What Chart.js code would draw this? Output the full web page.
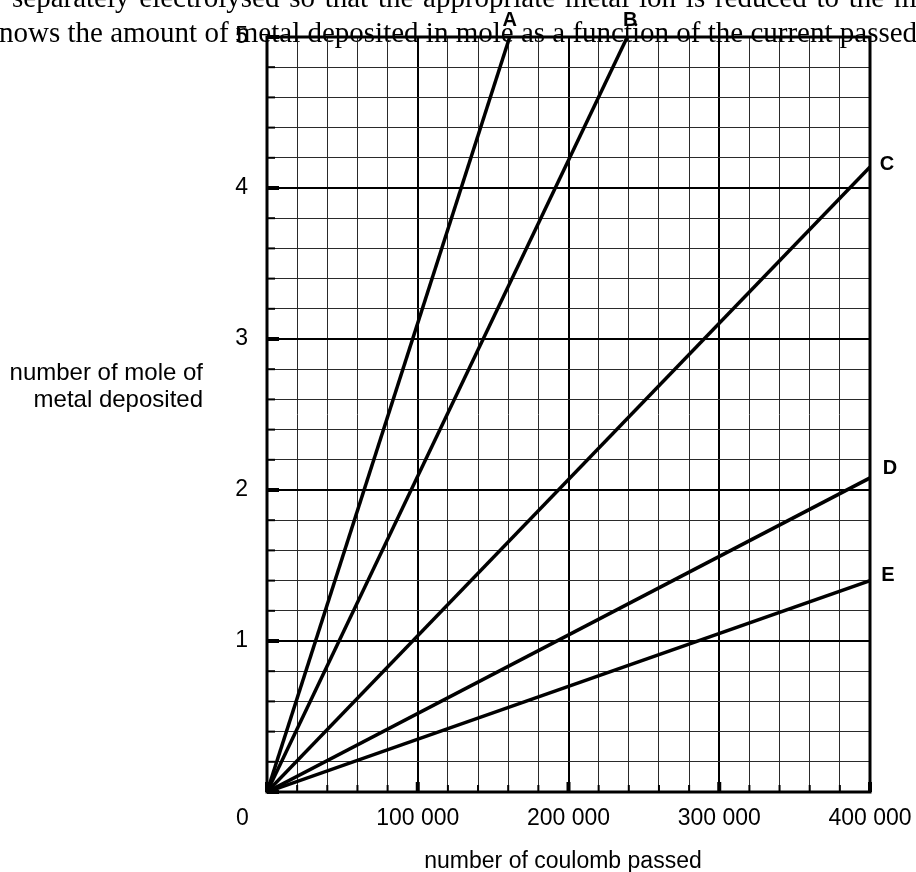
<!DOCTYPE html>
<html>
<head>
<meta charset="utf-8">
<script src="https://cdn.jsdelivr.net/npm/chart.js@4/dist/chart.umd.min.js"></script>
<style>
  html, body { margin: 0; padding: 0; background: #fff; }
  #wrap { width: 916px; height: 872px; }
</style>
</head>
<body>
<div id="wrap"><canvas id="faradayChart" width="916" height="872"></canvas></div>
<script>
// ---- data ----
const seriesLabels = ['A', 'B', 'C', 'D', 'E'];
const seriesCoulomb = [[0, 161000], [0, 239000], [0, 400000], [0, 400000], [0, 400000]];
const seriesMole = [[0, 5], [0, 5], [0, 4.14], [0, 2.08], [0, 1.40]];
const xTickValues = [0, 100000, 200000, 300000, 400000];
const xTickLabels = ['0', '100 000', '200 000', '300 000', '400 000'];
const yTickValues = [1, 2, 3, 4, 5];
const yTickLabels = ['1', '2', '3', '4', '5'];
const pageLines = [
    'separately electrolysed so that the appropriate metal ion is reduced to the metal.',
    'nows the amount of metal deposited in mole as a function of the current passed.'
];

const SANS = '"Liberation Sans", Arial, sans-serif';

// label offsets from each line's end point (px)
const labelOffsets = [[0, -17], [3, -17], [17, -2], [20, -9], [18, -5]];

const isWhole = (v, unit) => Math.abs(v / unit - Math.round(v / unit)) < 1e-6;

const datasets = seriesLabels.map((name, i) => ({
    label: name,
    data: seriesCoulomb[i].map((x, j) => ({ x: x, y: seriesMole[i][j] })),
    borderColor: '#000',
    borderWidth: 3.5,
    pointRadius: 0,
    fill: false,
    tension: 0
}));

// page text behind the graph (scanned exam sheet)
const pageTextPlugin = {
    id: 'pageText',
    beforeDraw(chart) {
        const ctx = chart.ctx;
        ctx.save();
        ctx.fillStyle = '#000';
        ctx.font = '29px "Liberation Serif", "Times New Roman", serif';
        ctx.textBaseline = 'alphabetic';
        ctx.textAlign = 'left';
        ctx.wordSpacing = '2.5px';
        ctx.fillText(pageLines[0], 12, 6.5);
        ctx.wordSpacing = '0px';
        ctx.fillText(pageLines[1], -1, 41.5);
        ctx.restore();
    }
};

// frame, inner tick stubs, labels
const decorPlugin = {
    id: 'decor',
    afterDatasetsDraw(chart) {
        const { ctx, chartArea: a, scales } = chart;
        ctx.save();
        ctx.strokeStyle = '#000';
        // tick stubs on left axis
        scales.y.ticks.forEach(t => {
            const y = scales.y.getPixelForValue(t.value);
            const major = isWhole(t.value, 1);
            ctx.lineWidth = major ? 4 : 2;
            ctx.beginPath();
            ctx.moveTo(a.left, y);
            ctx.lineTo(a.left + (major ? 12 : 8), y);
            ctx.stroke();
        });
        // tick stubs on bottom axis
        scales.x.ticks.forEach(t => {
            const x = scales.x.getPixelForValue(t.value);
            const major = isWhole(t.value, 100000);
            ctx.lineWidth = major ? 4 : 2;
            ctx.beginPath();
            ctx.moveTo(x, a.bottom);
            ctx.lineTo(x, a.bottom - (major ? 10 : 7));
            ctx.stroke();
        });
        ctx.lineWidth = 3;
        ctx.strokeRect(a.left, a.top, a.right - a.left, a.bottom - a.top);
        ctx.restore();
    },
    afterDraw(chart) {
        const { ctx, chartArea: a, scales } = chart;
        ctx.save();
        ctx.fillStyle = '#000';
        // line letters
        ctx.font = 'bold 20px ' + SANS;
        ctx.textAlign = 'center';
        ctx.textBaseline = 'middle';
        chart.data.datasets.forEach((ds, i) => {
            const last = ds.data[ds.data.length - 1];
            const px = scales.x.getPixelForValue(last.x) + labelOffsets[i][0];
            const py = scales.y.getPixelForValue(last.y) + labelOffsets[i][1];
            ctx.fillText(ds.label, px, py);
        });
        // shared zero at the corner
        ctx.font = '23px ' + SANS;
        ctx.textBaseline = 'alphabetic';
        ctx.fillText(xTickLabels[0], a.left - 24.5, 825);
        // axis titles
        ctx.fillText('number of coulomb passed', 563, 868);
        ctx.font = '24px ' + SANS;
        ctx.textAlign = 'right';
        ctx.fillText('number of mole of', 203, 379.5);
        ctx.fillText('metal deposited', 203, 406.5);
        ctx.restore();
    }
};

new Chart(document.getElementById('faradayChart'), {
    type: 'line',
    data: { datasets: datasets },
    options: {
        responsive: false,
        devicePixelRatio: 1,
        animation: false,
        layout: { padding: { top: 37, right: 46, left: 0, bottom: 0 } },
        plugins: {
            legend: { display: false },
            tooltip: { enabled: false }
        },
        scales: {
            x: {
                type: 'linear',
                min: 0,
                max: 400000,
                afterFit: s => { s.height = 80; s.paddingLeft = 0; s.paddingRight = 0; },
                border: { display: false },
                grid: {
                    drawTicks: false,
                    color: ctx => isWhole(ctx.tick.value, 100000) ? '#000' : '#2a2a2a',
                    lineWidth: ctx => isWhole(ctx.tick.value, 100000) ? 2 : 1
                },
                ticks: {
                    stepSize: 20000,
                    autoSkip: false,
                    maxRotation: 0,
                    minRotation: 0,
                    padding: 13,
                    color: '#000',
                    font: { family: SANS, size: 23 },
                    callback: v => {
                        const k = xTickValues.indexOf(v);
                        return k > 0 ? xTickLabels[k] : '';
                    }
                }
            },
            y: {
                min: 0,
                max: 5,
                afterFit: s => { s.width = 267; s.paddingTop = 0; s.paddingBottom = 0; },
                border: { display: false },
                grid: {
                    drawTicks: false,
                    color: ctx => isWhole(ctx.tick.value, 1) ? '#000' : '#2a2a2a',
                    lineWidth: ctx => isWhole(ctx.tick.value, 1) ? 2 : 1
                },
                ticks: {
                    stepSize: 0.2,
                    autoSkip: false,
                    padding: 19,
                    color: '#000',
                    font: { family: SANS, size: 23 },
                    callback: v => {
                        const k = yTickValues.findIndex(t => Math.abs(t - v) < 1e-6);
                        return k >= 0 ? yTickLabels[k] : '';
                    }
                }
            }
        }
    },
    plugins: [pageTextPlugin, decorPlugin]
});
</script>
</body>
</html>
